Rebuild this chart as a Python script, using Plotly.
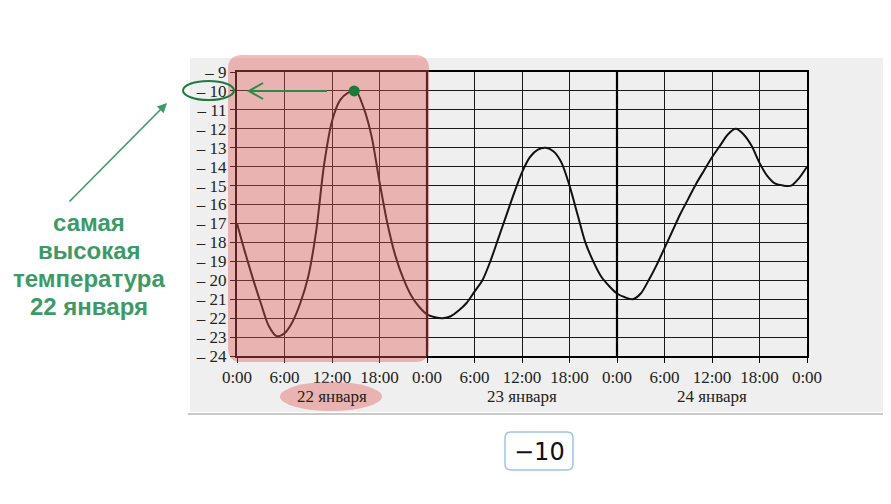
import plotly.graph_objects as go

# ---------------- data ----------------
hours = list(range(0, 73))
temperature = [
    -17.0, -18.5, -19.9, -21.2, -22.4, -22.95, -22.8, -22.2, -21.2, -19.8, -17.4, -13.9,
    -11.6, -10.5, -10.1, -10.0, -10.9, -12.4, -14.8, -17.0, -18.7, -19.9, -20.8, -21.4,
    -21.8, -21.95, -22.0, -21.9, -21.6, -21.2, -20.6, -20.0, -19.0, -17.8, -16.6, -15.4,
    -14.3, -13.5, -13.1, -13.0, -13.2, -13.8, -15.0, -16.5, -18.0, -19.0, -19.8, -20.3,
    -20.7, -20.9, -21.0, -20.7, -20.0, -19.2, -18.3, -17.4, -16.5, -15.7, -14.9, -14.2,
    -13.5, -12.9, -12.3, -12.0, -12.3, -12.9, -13.8, -14.5, -14.9, -15.0, -15.0, -14.6,
    -14.0,
]
x_tick_vals = [0, 6, 12, 18, 24, 30, 36, 42, 48, 54, 60, 66, 72]
x_tick_text = ["0:00", "6:00", "12:00", "18:00", "0:00", "6:00", "12:00", "18:00",
               "0:00", "6:00", "12:00", "18:00", "0:00"]
y_tick_vals = list(range(-24, -8))
y_tick_text = ["– %d" % abs(v) for v in y_tick_vals]
day_centers = [12, 36, 60]
day_labels = ["22 января", "23 января", "24 января"]
day_bounds = [24, 48]
peak_hour = [14.8]
peak_temp = [-10]
note_lines = ["самая", "высокая", "температура", "22 января"]
answer_text = "−10"

# ---------------- geometry helpers (screen pixel -> paper) ----------------
OFF = 8  # default page body margin
L, R, T, B = 237 - OFF, 807 - OFF, 72 - OFF, 356 - OFF
W, H = 883, 496


def px(x):
    return (x - OFF - L) / (R - L)


def py(y):
    return (B - (y - OFF)) / (B - T)


def rounded_rect(x0, y0, x1, y1, r):
    pts = [
        f"M {px(x0 + r)},{py(y0)}",
        f"L {px(x1 - r)},{py(y0)}",
        f"Q {px(x1)},{py(y0)} {px(x1)},{py(y0 + r)}",
        f"L {px(x1)},{py(y1 - r)}",
        f"Q {px(x1)},{py(y1)} {px(x1 - r)},{py(y1)}",
        f"L {px(x0 + r)},{py(y1)}",
        f"Q {px(x0)},{py(y1)} {px(x0)},{py(y1 - r)}",
        f"L {px(x0)},{py(y0 + r)}",
        f"Q {px(x0)},{py(y0)} {px(x0 + r)},{py(y0)}",
        "Z",
    ]
    return " ".join(pts)


serif = "Liberation Serif"
green_text = "#3d9a66"
green_dark = "#1f7a40"

fig = go.Figure()
fig.add_trace(go.Scatter(
    x=hours, y=temperature, mode="lines",
    line=dict(color="#111111", width=2, shape="spline", smoothing=0.8),
    hoverinfo="skip", showlegend=False,
))

shapes = []
# grey panel behind the chart
shapes.append(dict(type="rect", xref="paper", yref="paper", layer="below",
                   x0=px(190), x1=px(891), y0=py(412), y1=py(58),
                   fillcolor="#efefef", line=dict(width=0)))
shapes.append(dict(type="line", xref="paper", yref="paper", layer="below",
                   x0=px(188), x1=px(891), y0=py(414), y1=py(414),
                   line=dict(color="#c9c9c9", width=2)))
# thick day-boundary lines
for d in day_bounds:
    shapes.append(dict(type="line", xref="x", yref="paper", layer="above",
                       x0=d, x1=d, y0=0, y1=1, line=dict(color="#000000", width=2.2)))
# pink highlight of 22 January
shapes.append(dict(type="path", xref="paper", yref="paper", layer="above",
                   path=rounded_rect(228, 55, 429, 362, 14),
                   fillcolor="rgba(225,90,85,0.4)", line=dict(width=0)))
shapes.append(dict(type="circle", xref="paper", yref="paper", layer="above",
                   x0=px(280), x1=px(382), y0=py(411), y1=py(382),
                   fillcolor="rgba(225,90,85,0.4)", line=dict(width=0)))
# green ellipse around -10
shapes.append(dict(type="circle", xref="paper", yref="paper", layer="above",
                   x0=px(183), x1=px(234), y0=py(100), y1=py(81),
                   fillcolor="rgba(0,0,0,0)", line=dict(color=green_dark, width=2)))
# horizontal arrow with open head
shapes.append(dict(type="path", xref="paper", yref="paper", layer="above",
                   path=(f"M {px(327)},{py(91)} L {px(249)},{py(91)} "
                         f"M {px(263)},{py(83)} L {px(249)},{py(91)} L {px(263)},{py(99)}"),
                   line=dict(color="#2a8a4a", width=2)))
# peak dot
shapes.append(dict(type="circle", xref="x", yref="y", layer="above",
                   xsizemode="pixel", ysizemode="pixel",
                   xanchor=peak_hour[0], yanchor=peak_temp[0],
                   x0=-5.5, x1=5.5, y0=-5.5, y1=5.5,
                   fillcolor="#1a7a3a", line=dict(width=0)))
# answer box
shapes.append(dict(type="path", xref="paper", yref="paper", layer="above",
                   path=rounded_rect(505, 432, 573, 470, 6),
                   fillcolor="#ffffff", line=dict(color="#9ec4e8", width=1.5)))

annotations = []
for xc, lab in zip(day_centers, day_labels):
    annotations.append(dict(x=xc, xref="x", y=py(396), yref="paper", text=lab,
                            showarrow=False, font=dict(family=serif, size=17, color="#222222"),
                            xanchor="center", yanchor="middle"))
for i, line in enumerate(note_lines):
    annotations.append(dict(x=px(89), xref="paper", y=py(222 + 28.3 * i), yref="paper",
                            text="<b>%s</b>" % line, showarrow=False,
                            font=dict(family="Liberation Sans", size=24, color=green_text),
                            xanchor="center", yanchor="middle"))
annotations.append(dict(x=px(167), xref="paper", y=py(103), yref="paper", text="",
                        showarrow=True, ax=-99, ay=100, arrowhead=2, arrowsize=1.2,
                        arrowwidth=1.6, arrowcolor=green_text))
annotations.append(dict(x=px(539), xref="paper", y=py(452), yref="paper", text=answer_text,
                        showarrow=False, font=dict(family="DejaVu Sans", size=24, color="#111111"),
                        xanchor="center", yanchor="middle"))

fig.update_layout(
    width=W, height=H,
    margin=dict(l=L, r=W - R, t=T, b=H - B, pad=0),
    paper_bgcolor="#ffffff",
    plot_bgcolor="rgba(0,0,0,0)",
    showlegend=False,
    shapes=shapes,
    annotations=annotations,
    xaxis=dict(range=[0, 72], tickvals=x_tick_vals, ticktext=x_tick_text,
               showgrid=True, gridcolor="#1a1a1a", gridwidth=1.4,
               ticks="outside", ticklen=5, tickcolor="#000", tickwidth=1.4,
               showline=True, linecolor="#000", linewidth=2, mirror=True,
               zeroline=False, fixedrange=True,
               tickfont=dict(family=serif, size=17, color="#222222")),
    yaxis=dict(range=[-24, -9], tickvals=y_tick_vals, ticktext=y_tick_text,
               showgrid=True, gridcolor="#1a1a1a", gridwidth=1.4,
               ticks="outside", ticklen=5, tickcolor="#000", tickwidth=1.4,
               showline=True, linecolor="#000", linewidth=2, mirror=True,
               zeroline=False, fixedrange=True,
               tickfont=dict(family=serif, size=17, color="#222222")),
)

fig.write_html("out.html")
